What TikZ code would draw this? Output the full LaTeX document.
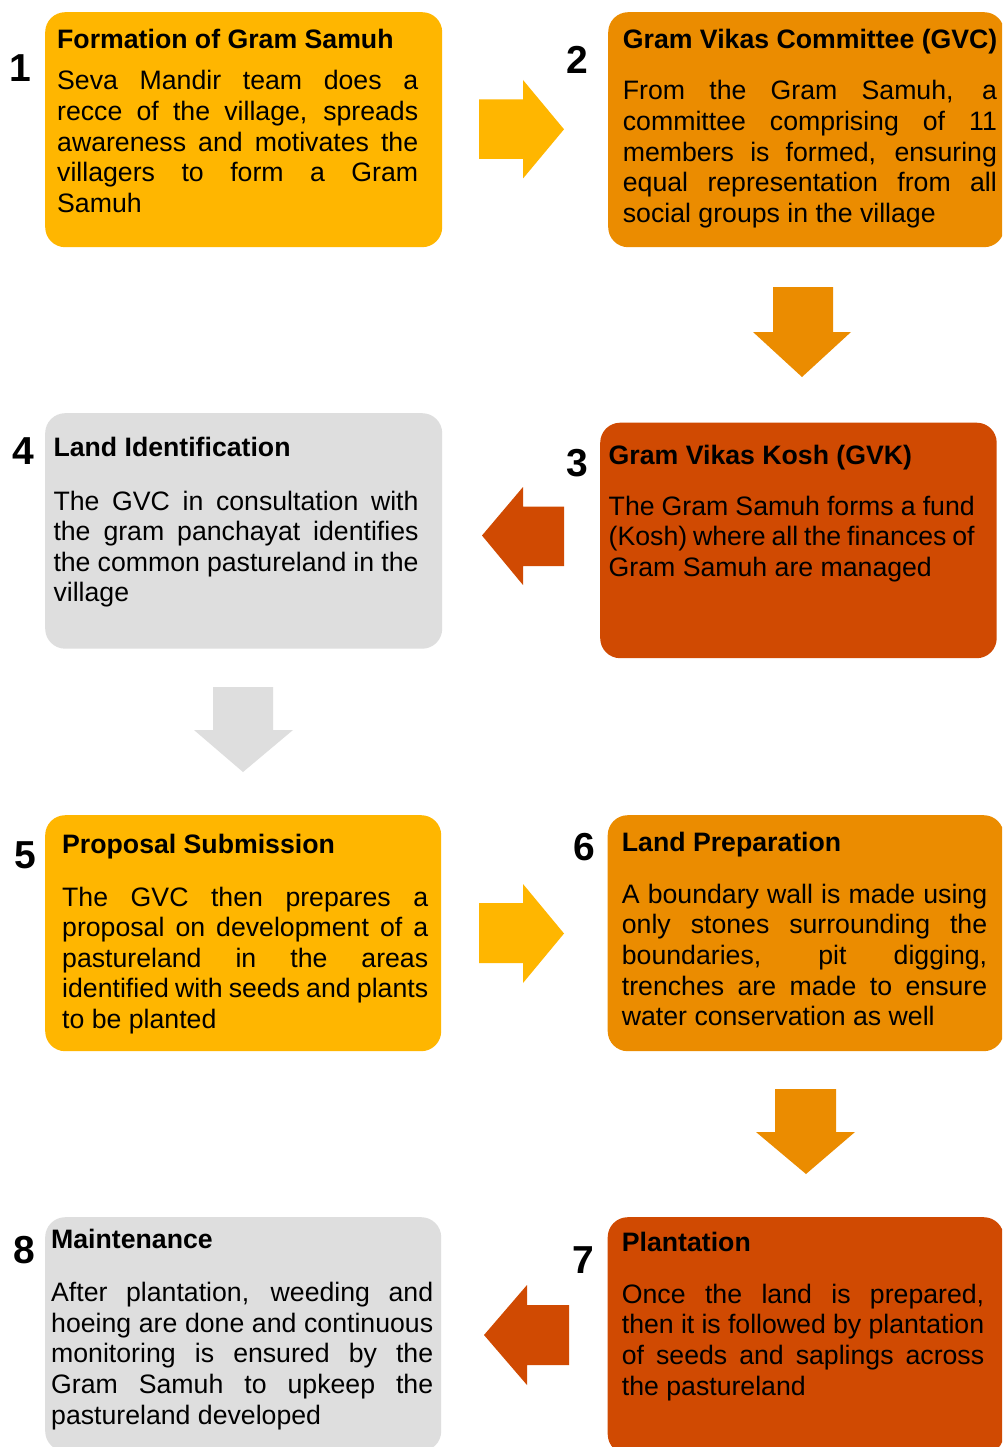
\documentclass[tikz,border=0pt]{standalone}
\usepackage{fontspec}
\setmainfont{Liberation Sans}
\definecolor{cgold}{HTML}{FFB600}
\definecolor{corange}{HTML}{EB8C00}
\definecolor{cdark}{HTML}{D04A02}
\definecolor{cgrey}{HTML}{DEDEDE}
\newcommand{\jl}[1]{\hbox to \hsize{#1}}
\newcommand{\nl}[1]{\hbox{#1}}
\newcommand{\para}[2]{\vtop{\hsize=#1pt\lineskiplimit=-100pt\lineskip=0pt #2}}
\tikzset{
  box/.style={rounded corners=20pt, inner sep=0pt, anchor=north west, draw=none},
  ttl/.style={anchor=base west, inner sep=0pt, font=\bfseries\fontsize{26.67}{30.6}\selectfont},
  body/.style={anchor=base west, inner sep=0pt, font=\fontsize{26.67}{30.6}\selectfont},
  num/.style={anchor=base, inner sep=0pt, font=\bfseries\fontsize{39}{40}\selectfont},
}
\begin{document}
\begin{tikzpicture}[x=1pt,y=-1pt]
\useasboundingbox (0,0) rectangle (1002,1447);
\fill[white] (0,0) rectangle (1002,1447);
\clip (0,0) rectangle (1002,1447);

% boxes
\node[box, fill=cgold,   minimum width=397pt, minimum height=235pt] (b1) at (45,12) {};
\node[box, fill=corange, minimum width=396pt, minimum height=235pt] (b2) at (608,12) {};
\node[box, fill=cdark,   minimum width=396.5pt, minimum height=235.5pt] (b3) at (600,422.5) {};
\node[box, fill=cgrey,   minimum width=397pt, minimum height=235.5pt] (b4) at (45,413) {};
\node[box, fill=cgold,   minimum width=396pt, minimum height=236pt] (b5) at (45,815) {};
\node[box, fill=corange, minimum width=396pt, minimum height=236pt] (b6) at (607.5,815) {};
\node[box, fill=cdark,   minimum width=396pt, minimum height=237pt] (b7) at (607.5,1217) {};
\node[box, fill=cgrey,   minimum width=396pt, minimum height=234pt] (b8) at (45,1217) {};

% arrows
\fill[cgold] (479,99.5) -- (523,99.5) -- (523,80) -- (564,129.3) -- (523,178.5) -- (523,159) -- (479,159) -- cycle;
\fill[corange] (773,287) -- (833,287) -- (833,332) -- (851,332) -- (802,377) -- (753,332) -- (773,332) -- cycle;
\fill[cdark] (564,506.5) -- (523,506.5) -- (523,487) -- (482,535.5) -- (523,585) -- (523,566) -- (564,566) -- cycle;
\fill[cgrey] (213,687) -- (273,687) -- (273,730) -- (293,730) -- (243,772) -- (194,730) -- (213,730) -- cycle;
\fill[cgold] (479,903) -- (523,903) -- (523,884) -- (564,933.5) -- (523,983) -- (523,963) -- (479,963) -- cycle;
\fill[corange] (775,1089) -- (836,1089) -- (836,1132) -- (855,1132) -- (806,1174) -- (756,1132) -- (775,1132) -- cycle;
\fill[cdark] (569,1305) -- (527,1305) -- (527,1285) -- (484,1335) -- (527,1385) -- (527,1365) -- (569,1365) -- cycle;

% numbers
\node[num] (n1) at (20,81.7) {1};
\node[num] (n2) at (577.5,73.3) {2};
\node[num] (n3) at (577,476.7) {3};
\node[num] (n4) at (23,464) {4};
\node[num] (n5) at (25.5,868) {5};
\node[num] (n6) at (584,860) {6};
\node[num] (n7) at (583.5,1273.3) {7};
\node[num] (n8) at (24,1263.3) {8};

% box 1
\node[ttl] (t1) at (57,48.3) {Formation of Gram Samuh};
\node[body] (p1) at (57,90) {\para{361}{%
\jl{Seva Mandir team does a}%
\jl{recce of the village, spreads}%
\jl{awareness and motivates the}%
\jl{villagers to form a Gram}%
\nl{Samuh}}};

% box 2
\node[ttl] (t2) at (622.7,48.3) {Gram Vikas Committee (GVC)};
\node[body] (p2) at (622.7,100) {\para{374}{%
\jl{From the Gram Samuh, a}%
\jl{committee comprising of 11}%
\jl{members is formed, ensuring}%
\jl{equal representation from all}%
\nl{social groups in the village}}};

% box 3
\node[ttl] (t3) at (608.5,464) {Gram Vikas Kosh (GVK)};
\node[body] (p3) at (608.5,515) {\para{366}{%
\jl{The Gram Samuh forms a fund}%
\jl{(Kosh) where all the finances of}%
\nl{Gram Samuh are managed}}};

% box 4
\node[ttl] (t4) at (53.3,456.7) {Land Identification};
\node[body] (p4) at (53.3,510) {\para{365}{%
\jl{The GVC in consultation with}%
\jl{the gram panchayat identifies}%
\jl{the common pastureland in the}%
\nl{village}}};

% box 5
\node[ttl] (t5) at (62,853.3) {Proposal Submission};
\node[body] (p5) at (62,906) {\para{366}{%
\jl{The GVC then prepares a}%
\jl{proposal on development of a}%
\jl{pastureland in the areas}%
\jl{identified with seeds and plants}%
\nl{to be planted}}};

% box 6
\node[ttl] (t6) at (621.7,851.7) {Land Preparation};
\node[body] (p6) at (621.7,903.3) {\para{365.3}{%
\jl{A boundary wall is made using}%
\jl{only stones surrounding the}%
\jl{boundaries, pit digging,}%
\jl{trenches are made to ensure}%
\nl{water conservation as well}}};

% box 7
\node[ttl] (t7) at (621.7,1251.7) {Plantation};
\node[body] (p7) at (621.7,1303.3) {\para{362.3}{%
\jl{Once the land is prepared,}%
\jl{then it is followed by plantation}%
\jl{of seeds and saplings across}%
\nl{the pastureland}}};

% box 8
\node[ttl] (t8) at (51,1248.3) {Maintenance};
\node[body] (p8) at (51,1301.7) {\para{382}{%
\jl{After plantation, weeding and}%
\jl{hoeing are done and continuous}%
\jl{monitoring is ensured by the}%
\jl{Gram Samuh to upkeep the}%
\nl{pastureland developed}}};
\end{tikzpicture}
\end{document}
